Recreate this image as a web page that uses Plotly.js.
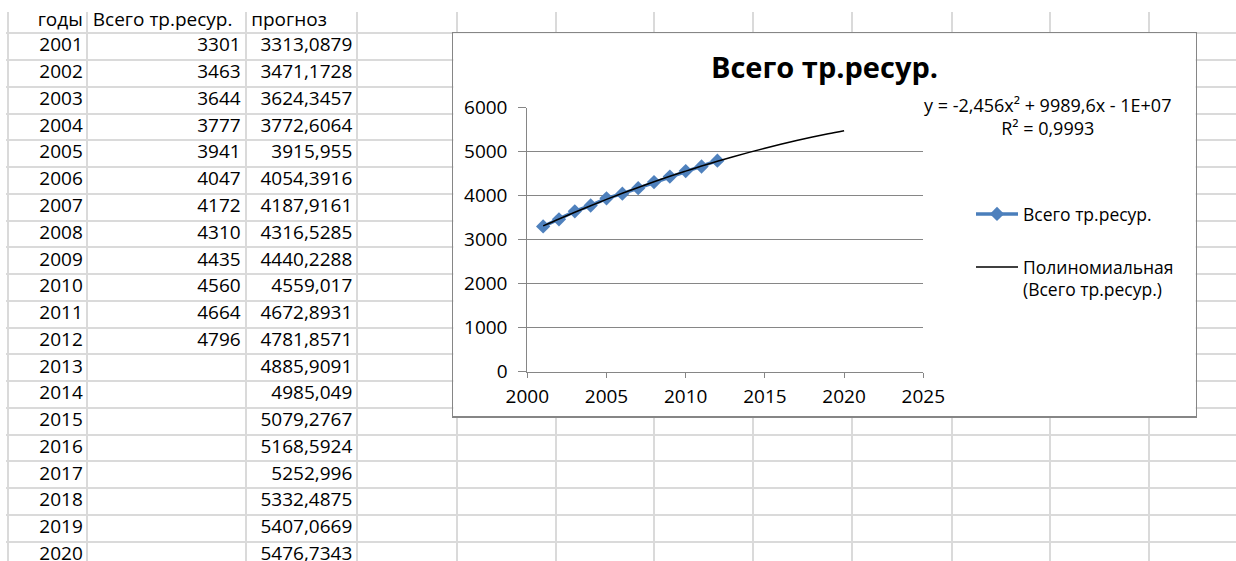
<!DOCTYPE html>
<html><head><meta charset="utf-8">
<script src="https://cdn.plot.ly/plotly-3.0.1.min.js"></script>
<style>html,body{margin:0;padding:0;overflow:hidden;background:#fff}#c{width:1236px;height:561px}</style>
</head><body><div id="c"></div><script>
// ---- data ----
const headers = ['годы', 'Всего тр.ресур.', 'прогноз'];
const years = [2001, 2002, 2003, 2004, 2005, 2006, 2007, 2008, 2009, 2010,
               2011, 2012, 2013, 2014, 2015, 2016, 2017, 2018, 2019, 2020];
const totalRes = [3301, 3463, 3644, 3777, 3941, 4047, 4172, 4310, 4435, 4560, 4664, 4796];
const forecast = [3313.0879, 3471.1728, 3624.3457, 3772.6064, 3915.955, 4054.3916, 4187.9161,
                  4316.5285, 4440.2288, 4559.017, 4672.8931, 4781.8571, 4885.9091, 4985.049,
                  5079.2767, 5168.5924, 5252.996, 5332.4875, 5407.0669, 5476.7343];
const chartTitle = 'Всего тр.ресур.';
const seriesName = 'Всего тр.ресур.';
const trendName = 'Полиномиальная<br>(Всего тр.ресур.)';
const equation = 'y = -2,456x² + 9989,6x - 1E+07';
const rSquared = 'R² = 0,9993';
const xTicks = [2000, 2005, 2010, 2015, 2020, 2025];
const yTicks = [0, 1000, 2000, 3000, 4000, 5000, 6000];

// ---- sheet geometry ----
const W = 1236, H = 561;
const FONT = 'Open Sans, Liberation Sans, sans-serif';
const colEdges = [8.3, 87.3, 245.7, 357.3, 457, 555.5, 654, 753, 852, 951.5, 1050, 1149];
const rowTop = 33.3, rowH = 26.76;
const rowEdges = [];
for (let k = 0; k <= 20; k++) rowEdges.push(rowTop + k * rowH);
const rowCenter = i => rowTop + (i + 0.5) * rowH;
const headerY = rowTop - rowH / 2 + 1.5;
const fmt = v => String(v).replace('.', ',');

const sheetFont = {family: FONT, size: 19, color: '#000'};
const common = {mode: 'text', hoverinfo: 'skip', showlegend: false, cliponaxis: false, textfont: sheetFont, xaxis: 'x', yaxis: 'y'};

const traces = [];
// header
traces.push(Object.assign({}, common, {
  x: [colEdges[1] - 4.5, colEdges[1] + 5.5, colEdges[2] + 5.5],
  y: [headerY, headerY, headerY],
  text: headers,
  textposition: ['middle left', 'middle right', 'middle right']
}));
// column A: years
traces.push(Object.assign({}, common, {
  x: years.map(() => colEdges[1] - 4.5),
  y: years.map((_, i) => rowCenter(i)),
  text: years.map(String),
  textposition: 'middle left'
}));
// column B: totals
traces.push(Object.assign({}, common, {
  x: totalRes.map(() => colEdges[2] - 5),
  y: totalRes.map((_, i) => rowCenter(i)),
  text: totalRes.map(String),
  textposition: 'middle left'
}));
// column C: forecast
traces.push(Object.assign({}, common, {
  x: forecast.map(() => colEdges[3] - 5),
  y: forecast.map((_, i) => rowCenter(i)),
  text: forecast.map(fmt),
  textposition: 'middle left'
}));
// chart box (white area with border)
traces.push({x: [], y: [], xaxis: 'x2', yaxis: 'y2', showlegend: false, hoverinfo: 'skip', type: 'scatter'});
// chart series
traces.push({
  x: years.slice(0, totalRes.length), y: totalRes, xaxis: 'x3', yaxis: 'y3',
  type: 'scatter', mode: 'lines+markers', name: seriesName, legend: 'legend',
  line: {color: '#4a7ebb', width: 3.5},
  marker: {symbol: 'diamond', size: 11, color: '#4f81bd', line: {width: 0}},
  hoverinfo: 'skip'
});
// polynomial trend
traces.push({
  x: years, y: forecast, xaxis: 'x3', yaxis: 'y3',
  type: 'scatter', mode: 'lines', name: trendName, legend: 'legend2',
  line: {color: '#000', width: 1.5, shape: 'spline'},
  hoverinfo: 'skip'
});

const hidden = {showgrid: false, zeroline: false, showticklabels: false, ticks: '', fixedrange: true};
const tickFont = {family: FONT, size: 19, color: '#000'};
const legFont = {family: FONT, size: 17.5, color: '#000'};

const layout = {
  width: W, height: H,
  margin: {l: 0, r: 0, t: 0, b: 0, pad: 0},
  paper_bgcolor: '#fff', plot_bgcolor: '#ffffff',
  font: {family: FONT, color: '#000'},
  title: {text: '<b>' + chartTitle + '</b>', font: {family: FONT, size: 29, color: '#000'},
          x: 824.5 / W, xref: 'paper', xanchor: 'center', y: 1 - 67.5 / H, yref: 'paper', yanchor: 'middle'},
  xaxis: Object.assign({}, hidden, {domain: [6 / W, 1], range: [6, W], tickvals: colEdges,
          showgrid: true, gridcolor: '#dadada', gridwidth: 2, anchor: 'y'}),
  yaxis: Object.assign({}, hidden, {domain: [0, 1 - 12 / H], range: [H, 12], tickvals: rowEdges,
          showgrid: true, gridcolor: '#dadada', gridwidth: 2, anchor: 'x'}),
  xaxis2: Object.assign({}, hidden, {domain: [453.3 / W, 1195.7 / W], range: [0, 1], anchor: 'y2',
          showline: true, mirror: true, linecolor: '#868686', linewidth: 1.5}),
  yaxis2: Object.assign({}, hidden, {domain: [1 - 416 / H, 1 - 33.3 / H], range: [0, 1], anchor: 'x2',
          showline: true, mirror: true, linecolor: '#868686', linewidth: 1.5}),
  xaxis3: {domain: [527.3 / W, 923.3 / W], range: [2000, 2025], anchor: 'y3', tickvals: xTicks,
           ticks: 'outside', ticklen: 5, tickcolor: '#868686', tickwidth: 1, ticklabelstandoff: 2,
           showline: true, linecolor: '#868686', linewidth: 1, showgrid: false, zeroline: false,
           tickfont: tickFont, fixedrange: true},
  yaxis3: {domain: [1 - 371.7 / H, 1 - 107.7 / H], range: [0, 6000], anchor: 'x3', tickvals: yTicks,
           ticks: 'outside', ticklen: 8, tickcolor: '#868686', tickwidth: 1, ticklabelstandoff: 7,
           showline: true, linecolor: '#868686', linewidth: 1, showgrid: true, gridcolor: '#868686',
           gridwidth: 1, zeroline: false, tickfont: tickFont, fixedrange: true},
  annotations: [{
    xref: 'paper', yref: 'paper', x: 1047.5 / W, y: 1 - 116.7 / H, xanchor: 'center', yanchor: 'middle',
    align: 'center', showarrow: false, text: equation + '<br>' + rSquared,
    font: {family: FONT, size: 18, color: '#000'}
  }],
  legend: {x: 971 / W, xanchor: 'left', y: 1 - 196 / H, yanchor: 'top', font: legFont,
           bgcolor: 'rgba(0,0,0,0)', borderwidth: 0, itemwidth: 42},
  legend2: {x: 971 / W, xanchor: 'left', y: 1 - 249 / H, yanchor: 'top', font: legFont,
            bgcolor: 'rgba(0,0,0,0)', borderwidth: 0, itemwidth: 42, valign: 'top'},
  showlegend: true
};

Plotly.newPlot('c', traces, layout, {staticPlot: true, displayModeBar: false});
</script></body></html>
